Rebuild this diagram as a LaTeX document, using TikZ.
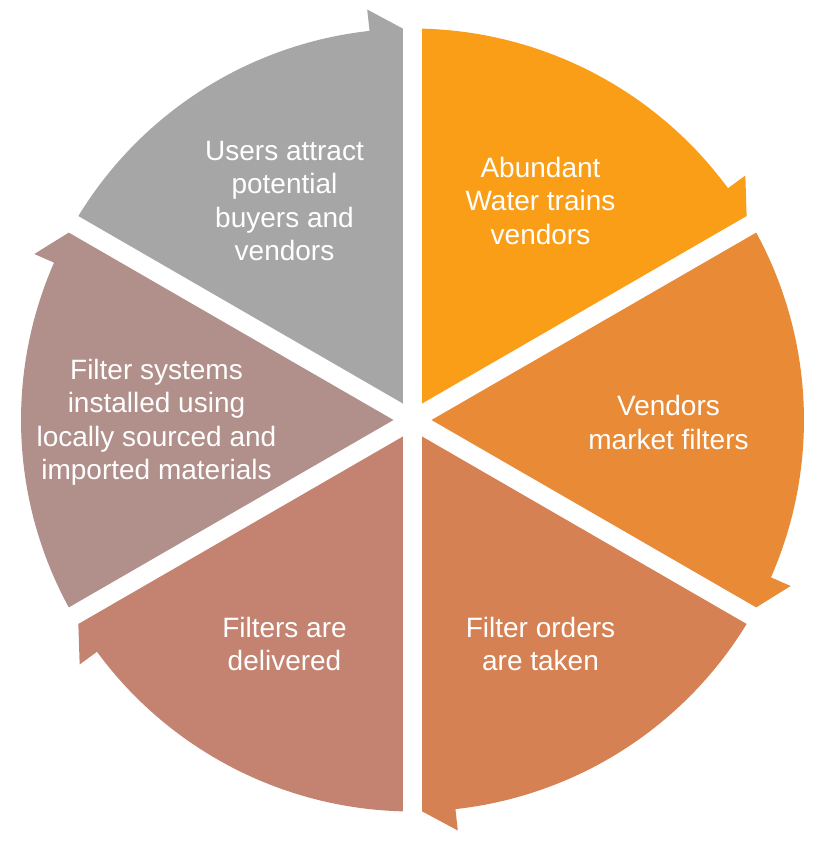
\documentclass[tikz,border=0pt]{standalone}
\usepackage{fontspec}
\setmainfont{Liberation Sans}
\usepackage{tikz}
\definecolor{ash}{HTML}{A6A6A6}
\definecolor{saffron}{HTML}{FA9E18}
\definecolor{tangerine}{HTML}{E88A36}
\definecolor{terracotta}{HTML}{D68153}
\definecolor{clay}{HTML}{C48371}
\definecolor{rosewood}{HTML}{B18F8A}
% one segment of the cycle: #1 = angle of its clockwise end, #2 = colour
\newcommand{\cycleseg}[2]{%
  \fill[#2] (#1+30:19) -- (#1+58.6:391.5)
    arc[start angle=#1+58.6, end angle=#1+6.3, radius=391.5]
    -- (#1+6.3:413) -- (#1+1.4:391.5) -- cycle;}
\tikzset{
  seglabel/.style={text=white, align=center, inner sep=0pt, yshift=-2.5pt,
                   font=\fontsize{28}{33.5}\selectfont}
}
\begin{document}
\begin{tikzpicture}[x=1pt, y=1pt]
 \useasboundingbox (-412.5,-423) rectangle (414.5,420);
 \cycleseg{30}{saffron}
 \cycleseg{-30}{tangerine}
 \cycleseg{-90}{terracotta}
 \cycleseg{-150}{clay}
 \cycleseg{150}{rosewood}
 \cycleseg{90}{ash}
 \node[seglabel] (train) at (60:256) {Abundant\\Water trains\\vendors};
 \node[seglabel] (market) at (0:256) {Vendors\\market filters};
 \node[seglabel] (order) at (-60:256) {Filter orders\\are taken};
 \node[seglabel] (deliver) at (-120:256) {Filters are\\delivered};
 \node[seglabel] (install) at (180:256) {Filter systems\\installed using\\locally sourced and\\imported materials};
 \node[seglabel] (attract) at (120:256) {Users attract\\potential\\buyers and\\vendors};
\end{tikzpicture}
\end{document}
